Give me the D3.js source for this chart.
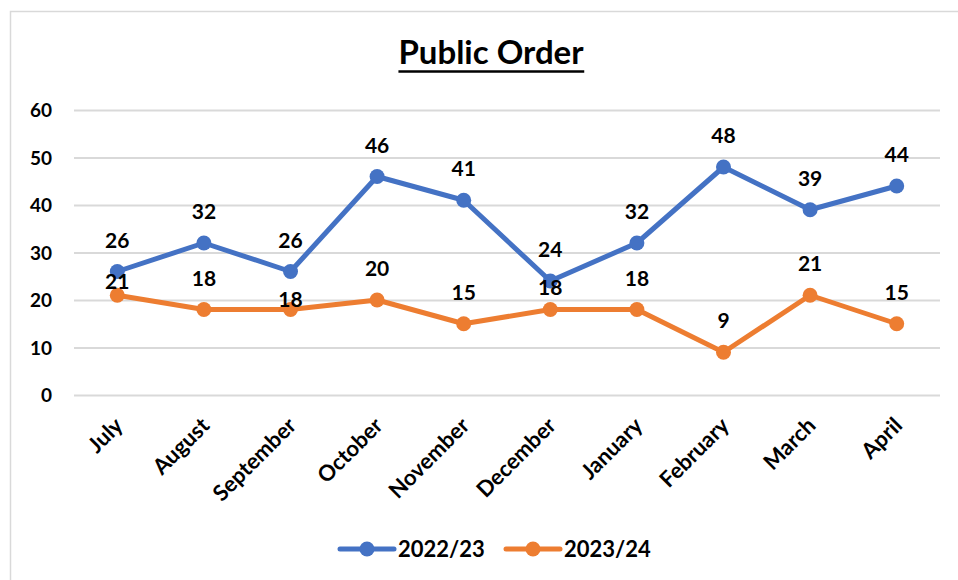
<!DOCTYPE html>
<html>
<head>
<meta charset="utf-8">
<script src="https://cdn.jsdelivr.net/npm/d3@7"></script>
<style>
  body { margin: 0; background: #fff; }
  text { font-family: Lato, "Noto Sans", sans-serif; font-weight: bold; fill: #000; }
</style>
</head>
<body>
<div class="chart"></div>
<script>
var months = ["July", "August", "September", "October", "November", "December", "January", "February", "March", "April"];
var values2223 = [26, 32, 26, 46, 41, 24, 32, 48, 39, 44];
var values2324 = [21, 18, 18, 20, 15, 18, 18, 9, 21, 15];
var yTicks = [0, 10, 20, 30, 40, 50, 60];

// a few of the orange labels were dragged down in the original to dodge the blue line
var orangeLabelShift = { "July": 18, "September": 21, "December": 9 };

var svgWidth = 958;
var svgHeight = 580;

var margin = { top: 110, right: 18, bottom: 185, left: 74 };
var width = svgWidth - margin.left - margin.right;
var height = svgHeight - margin.top - margin.bottom;

var svg = d3.select(".chart")
  .append("svg")
  .attr("width", svgWidth)
  .attr("height", svgHeight);

// chart area border
svg.append("rect")
  .attr("x", 10.5)
  .attr("y", 11.5)
  .attr("width", 980)
  .attr("height", 600)
  .attr("fill", "none")
  .attr("stroke", "#d9d9d9")
  .attr("stroke-width", 1.5);

// title
var title = svg.append("text")
  .attr("x", 491)
  .attr("y", 64)
  .attr("text-anchor", "middle")
  .style("font-size", "33px")
  .text("Public Order");

var tb = title.node().getBBox();
svg.append("line")
  .attr("x1", tb.x)
  .attr("x2", tb.x + tb.width)
  .attr("y1", 71.5)
  .attr("y2", 71.5)
  .attr("stroke", "#000")
  .attr("stroke-width", 2.5);

var chartGroup = svg.append("g")
  .attr("transform", `translate(${margin.left}, ${margin.top})`);

var xScale = d3.scalePoint()
  .domain(months)
  .range([0, width])
  .padding(0.5);

var yScale = d3.scaleLinear()
  .domain([0, 60])
  .range([height, 0]);

// gridlines + y labels
var leftAxis = d3.axisLeft(yScale)
  .tickValues(yTicks)
  .tickSize(-width)
  .tickPadding(22);

var yAxis = chartGroup.append("g").call(leftAxis);
yAxis.select(".domain").remove();
yAxis.selectAll("line").attr("stroke", "#d9d9d9").attr("stroke-width", 2);
yAxis.selectAll("text")
  .attr("dy", "0.36em")
  .style("font-size", "19px")
  .style("font-family", "Lato, sans-serif");

// x labels, rotated
chartGroup.selectAll(".xlabel")
  .data(months)
  .enter()
  .append("text")
  .attr("class", "xlabel")
  .attr("text-anchor", "end")
  .attr("transform", d => `translate(${xScale(d) + 7}, ${height + 32}) rotate(-45)`)
  .style("font-size", "22px")
  .text(d => d);

var line = d3.line()
  .x((d, i) => xScale(months[i]))
  .y(d => yScale(d));

var series = [
  { name: "2022/23", values: values2223, color: "#4472C4" },
  { name: "2023/24", values: values2324, color: "#ED7D31" }
];

series.forEach(function(s) {
  chartGroup.append("path")
    .datum(s.values)
    .attr("d", line)
    .attr("fill", "none")
    .attr("stroke", s.color)
    .attr("stroke-width", 5)
    .attr("stroke-linejoin", "round");

  chartGroup.selectAll(null)
    .data(s.values)
    .enter()
    .append("circle")
    .attr("cx", (d, i) => xScale(months[i]))
    .attr("cy", d => yScale(d))
    .attr("r", 7.5)
    .attr("fill", s.color);
});

series.forEach(function(s) {
  chartGroup.selectAll(null)
    .data(s.values)
    .enter()
    .append("text")
    .attr("x", (d, i) => xScale(months[i]))
    .attr("y", function(d, i) {
      var shift = s.name == "2023/24" ? (orangeLabelShift[months[i]] || 0) : 0;
      return yScale(d) - 24 + shift;
    })
    .attr("text-anchor", "middle")
    .style("font-size", "21px")
    .text(d => d);
});

// legend
var legendX = [340, 506];
series.forEach(function(s, i) {
  var g = svg.append("g").attr("transform", `translate(${legendX[i]}, 549)`);
  g.append("line")
    .attr("x1", 0).attr("x2", 54)
    .attr("stroke", s.color)
    .attr("stroke-width", 5)
    .attr("stroke-linecap", "round");
  g.append("circle")
    .attr("cx", 27)
    .attr("r", 7.5)
    .attr("fill", s.color);
  g.append("text")
    .attr("x", 58)
    .attr("y", 8)
    .style("font-size", "22px")
    .text(s.name);
});
</script>
</body>
</html>
